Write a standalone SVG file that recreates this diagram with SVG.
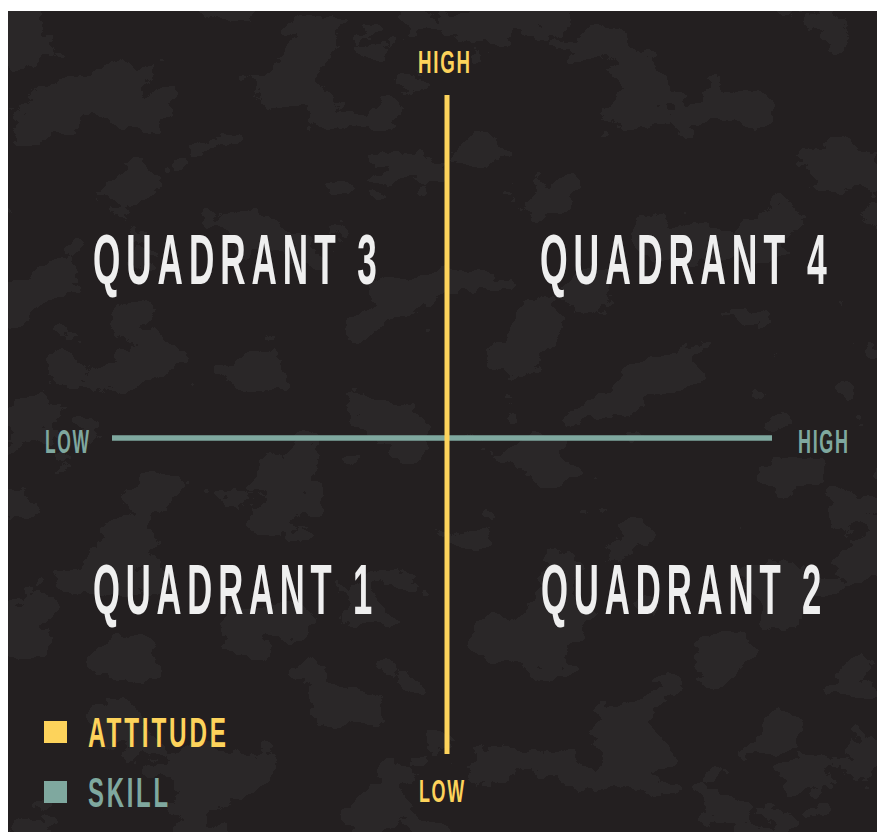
<svg xmlns="http://www.w3.org/2000/svg" width="877" height="832" viewBox="0 0 877 832">
  <style>
    .t { font-family: "Liberation Sans", Arial, sans-serif; font-weight: bold; }
    .q { fill: #efefef; font-size: 71px; letter-spacing: 12px; }
    .ax { font-size: 33px; letter-spacing: 3px; }
    .axs { font-size: 32px; letter-spacing: 3px; }
    .lg { font-size: 43px; letter-spacing: 5px; }
    .yel { fill: #fdd35b; }
    .teal { fill: #7fa89f; }
  </style>
  <defs>
    <filter id="tex" x="0" y="0" width="100%" height="100%" color-interpolation-filters="sRGB">
      <feTurbulence type="fractalNoise" baseFrequency="0.012 0.015" numOctaves="5" seed="11" result="n"/>
      <feColorMatrix type="matrix" values="0 0 0 0 0.165  0 0 0 0 0.153  0 0 0 0 0.157  2.2 0 0 0 -1.05"/>
      <feComponentTransfer>
        <feFuncA type="discrete" tableValues="0 1 1 1"/>
      </feComponentTransfer>
    </filter>
  </defs>
  <rect x="0" y="0" width="877" height="832" fill="#ffffff"/>
  <g id="background">
    <rect x="8" y="11" width="869" height="821" fill="#231f20"/>
    <rect x="8" y="11" width="869" height="821" filter="url(#tex)"/>
  </g>
  <g id="connectors">
    <line x1="112" y1="438" x2="772" y2="438" stroke="#7fa89f" stroke-width="5.5"/>
    <line x1="447" y1="95" x2="447" y2="754" stroke="#fdd35b" stroke-width="5"/>
  </g>
  <g id="attitude-high"><text class="t axs yel" transform="translate(418,73) scale(0.584,1)">HIGH</text></g>
  <g id="attitude-low"><text class="t axs yel" transform="translate(419,802) scale(0.56,0.97)">LOW</text></g>
  <g id="skill-low"><text class="t ax teal" transform="translate(45,453) scale(0.53,1)">LOW</text></g>
  <g id="skill-high"><text class="t ax teal" transform="translate(798,453) scale(0.546,1)">HIGH</text></g>
  <g id="quadrant-3"><text class="t q" transform="translate(93,284) scale(0.495,1)">QUADRANT 3</text></g>
  <g id="quadrant-4"><text class="t q" transform="translate(540,284) scale(0.5,1)">QUADRANT 4</text></g>
  <g id="quadrant-1"><text class="t q" transform="translate(93,614) scale(0.487,1)">QUADRANT 1</text></g>
  <g id="quadrant-2"><text class="t q" transform="translate(541,614) scale(0.489,1)">QUADRANT 2</text></g>
  <g id="legend-attitude">
    <rect x="44" y="721" width="23" height="22" fill="#fdd35b"/>
    <text class="t lg yel" transform="translate(88,747) scale(0.565,1)">ATTITUDE</text>
  </g>
  <g id="legend-skill">
    <rect x="44" y="781" width="23" height="22" fill="#7fa89f"/>
    <text class="t lg teal" transform="translate(88,807) scale(0.555,1)">SKILL</text>
  </g>
</svg>
